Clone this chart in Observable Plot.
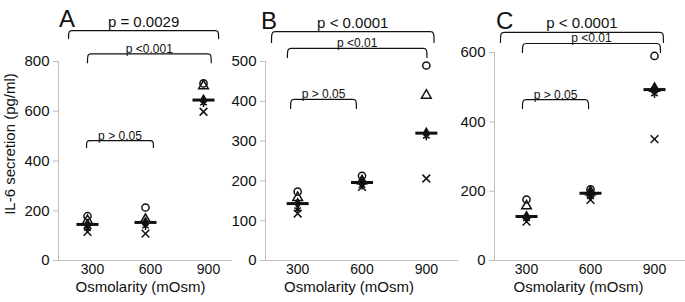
<!DOCTYPE html>
<html><head><meta charset="utf-8">
<script src="https://cdn.jsdelivr.net/npm/d3@7"></script>
<script src="https://cdn.jsdelivr.net/npm/@observablehq/plot@0.6"></script>
<style>
body{margin:0;background:#fff;}
#chart{position:relative;width:685px;height:302px;overflow:hidden;font-family:"Liberation Sans",Arial,sans-serif;color:#111;background:#fff;}
#chart svg{position:absolute;top:0;}
.letter{position:absolute;font-size:24px;line-height:1;color:#111;}
</style></head><body><div id="chart"></div>
<script>
// ---- data ----
const categories = [300, 600, 900];
const donors = ["Donor 1", "Donor 2", "Donor 3", "Donor 4", "Donor 5"];
// rows: donors (open circle, open triangle, filled diamond, asterisk, cross); columns: 300, 600, 900 mOsm
const valuesA = [[178, 213, 712], [160, 165, 702], [145, 153, 645], [128, 138, 632], [115, 108, 598]];
const valuesB = [[173, 213, 490], [158, 200, 415], [143, 196, 320], [128, 188, 312], [118, 185, 206]];
const valuesC = [[176, 205, 590], [157, 198, 496], [127, 194, 493], [120, 183, 480], [112, 175, 350]];
const yTicksA = [0, 200, 400, 600, 800];
const yTicksB = [0, 100, 200, 300, 400, 500];
const yTicksC = [0, 200, 400, 600];
// brackets: [from x, to x, top y, end y, label]
const bracketsA = [[202, 978, 924, 892, "p = 0.0029"], [300, 940, 831, 795, "p <0.001"], [295, 641, 482, 454, "p > 0.05"]];
const bracketsB = [[178, 936, 575, 548, "p < 0.0001"], [252, 903, 533, 510, "p <0.01"], [267, 574, 405, 382, "p > 0.05"]];
const bracketsC = [[178, 942, 658, 629, "p < 0.0001"], [281, 928, 626, 600, "p <0.01"], [281, 591, 464, 438, "p > 0.05"]];
const panelLetters = ["A", "B", "C"];
const xTitle = "Osmolarity (mOsm)";
const yTitle = "IL-6 secretion (pg/ml)";

const font = "Liberation Sans, Arial, sans-serif";
const hbar = {draw(ctx, size) { const r = Math.sqrt(size / Math.PI); ctx.moveTo(-r, 0); ctx.lineTo(r, 0); }};
const axisGray = "#bdbdbd";

function panel({values, yTicks, brackets, left, width, marginLeft, marginTop, tickDx, titleDx, yLabel}) {
  const yMax = yTicks[yTicks.length - 1];
  const rows = [];
  donors.forEach((d, i) => categories.forEach((c, j) => rows.push({osm: c, donor: d, value: values[i][j]})));
  const a = 18;
  const pts = [];
  brackets.forEach((b, k) => {
    const [x1, x2, top, bot] = b;
    [[x1, bot], [x1, top], [x1 + a, top], [x1 + 2 * a, top], [x2 - 2 * a, top], [x2 - a, top], [x2, top], [x2, bot]]
      .forEach(([x, y]) => pts.push({x, y, k}));
  });
  const marks = [
    Plot.ruleX([150], {y1: 0, y2: yMax, stroke: axisGray}),
    Plot.ruleY([0], {stroke: axisGray}),
    Plot.axisY(yTicks, {tickSize: 5, tickPadding: 4, fontSize: 15, stroke: axisGray, label: null, fill: "#111"}),
    Plot.axisX(categories, {tickSize: 0, tickPadding: 4, fontSize: 14, label: null, dx: tickDx, fill: "#111"}),
    Plot.line(pts, {x: "x", y: "y", z: "k", curve: "basis", stroke: "#111", strokeWidth: 1.2}),
    Plot.text(brackets.slice(0, 1), {x: b => (b[0] + b[1]) / 2, y: b => b[2], text: b => b[4], lineAnchor: "bottom", dy: -4, fontSize: 15, fill: "#111"}),
    Plot.text(brackets.slice(1), {x: b => (b[0] + b[1]) / 2, y: b => b[2], text: b => b[4], lineAnchor: "bottom", dy: -1, fontSize: 12, fill: "#111"}),
    Plot.dot(rows.filter(r => r.donor !== "Donor 3"), {x: "osm", y: "value", symbol: "donor", r: 3.6, stroke: "#111", fill: "none", strokeWidth: 1.5}),
    Plot.dot(rows.filter(r => r.donor === "Donor 3"), {x: "osm", y: "value", symbol: "donor", r: 3.8, fill: "#111", stroke: "none"}),
    Plot.dot(rows, Plot.groupX({y: "median"}, {x: "osm", y: "value", symbol: hbar, r: 11, stroke: "#111", strokeWidth: 3})),
    Plot.text([xTitle], {frameAnchor: "bottom", dy: 31, dx: titleDx, fontSize: 15, fill: "#111"})
  ];
  if (yLabel) marks.push(Plot.text([yLabel], {frameAnchor: "left", textAnchor: "middle", rotate: -90, dx: -48, dy: -17, fontSize: 15, fill: "#111"}));
  const svg = Plot.plot({
    width, height: 302, marginLeft, marginRight: 0, marginTop, marginBottom: 42,
    style: {background: "transparent", overflow: "visible", fontFamily: font},
    x: {domain: [150, 1050], axis: null},
    y: {domain: [0, yMax], axis: null},
    symbol: {domain: donors, range: ["circle", "triangle", "diamond", "asterisk", "times"]},
    marks
  });
  svg.style.left = left + "px";
  return svg;
}

const chart = document.getElementById("chart");
chart.append(panel({values: valuesA, yTicks: yTicksA, brackets: bracketsA, left: 0, width: 232, marginLeft: 58, marginTop: 61, tickDx: 5, titleDx: -5, yLabel: yTitle}));
chart.append(panel({values: valuesB, yTicks: yTicksB, brackets: bracketsB, left: 230, width: 228, marginLeft: 35, marginTop: 61, tickDx: 0, titleDx: -13}));
chart.append(panel({values: valuesC, yTicks: yTicksC, brackets: bracketsC, left: 460, width: 226, marginLeft: 34, marginTop: 52, tickDx: 0, titleDx: -12}));
const letterPos = [[59, 7], [261, 9], [496, 9]];
panelLetters.forEach((t, i) => {
  const d = document.createElement("div");
  d.className = "letter"; d.textContent = t;
  d.style.left = letterPos[i][0] + "px"; d.style.top = letterPos[i][1] + "px";
  chart.append(d);
});
</script></body></html>
